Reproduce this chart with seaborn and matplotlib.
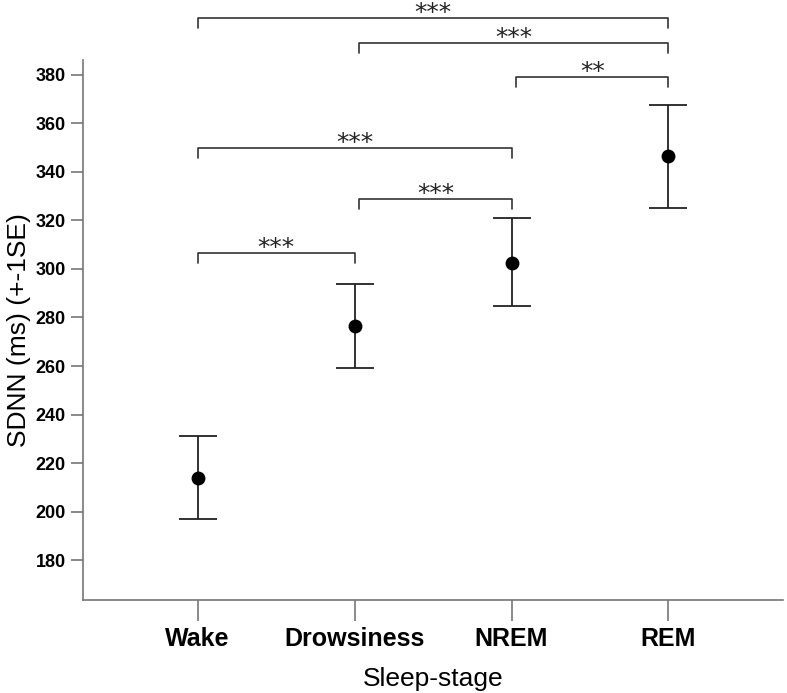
import seaborn as sns
import pandas as pd
import matplotlib.pyplot as plt

# values
stages = ["Wake", "Drowsiness", "NREM", "REM"]
means = [213.8, 276.5, 302.6, 346.4]
upper = [231.2, 294.0, 320.8, 367.5]
lower = [196.8, 259.0, 284.6, 325.2]

# significance brackets: (from, to, height, label)
pairs = [(0, 3), (1, 3), (2, 3), (0, 2), (1, 2), (0, 1)]
heights = [403.5, 393.0, 379.0, 350.0, 329.0, 306.5]
labels = ["***", "***", "**", "***", "***", "***"]

df = pd.DataFrame({"stage": stages, "mean": means, "upper": upper, "lower": lower})
df["x"] = range(len(stages))

sns.set_theme(style="ticks")
plt.rcParams["font.family"] = ["Liberation Sans", "DejaVu Sans"]
plt.rcParams["text.color"] = "black"
plt.rcParams["xtick.labelcolor"] = "black"
plt.rcParams["ytick.labelcolor"] = "black"
plt.rcParams["axes.labelcolor"] = "black"

fig = plt.figure(figsize=(7.87, 6.93), dpi=100)
ax = fig.add_axes([0.1055, 0.134, 0.8895, 0.779])

err = [df["mean"] - df["lower"], df["upper"] - df["mean"]]
ax.errorbar(df["x"], df["mean"], yerr=err, fmt="none", ecolor="#222222",
            elinewidth=1.3, capsize=14, capthick=1.3, zorder=2)
sns.scatterplot(data=df, x="x", y="mean", color="black", s=100,
                edgecolor="black", linewidth=0, zorder=3, ax=ax)

for (a, b), h, lab in zip(pairs, heights, labels):
    xa = a + (0.03 if a > 0 else 0)
    xb = b
    ax.plot([xa, xa, xb, xb], [h - 4.2, h, h, h - 4.2], color="#333333",
            lw=1.2, clip_on=False)
    ax.annotate(lab, xy=((xa + xb) / 2, h), xytext=(0, -1.5),
                textcoords="offset points", ha="center", va="baseline",
                fontsize=18, color="#222222",
                annotation_clip=False, family="DejaVu Sans")

ax.set_xlim(-0.73, 3.73)
ax.set_ylim(163.5, 386)
ax.set_xticks(df["x"])
ax.set_xticklabels(stages, fontsize=18, fontweight="bold")
ax.set_yticks(range(180, 381, 20))
ax.tick_params(axis="y", labelsize=13, length=9, width=1.2, color="#777777")
ax.tick_params(axis="x", length=15, width=1.2, color="#777777", pad=4)
for lab in ax.get_yticklabels():
    lab.set_fontweight("bold")
for s in ["left", "bottom"]:
    ax.spines[s].set_color("#777777")
    ax.spines[s].set_linewidth(1.2)
sns.despine(ax=ax)

ax.set_xlabel("Sleep-stage", fontsize=19, labelpad=12)
ax.set_ylabel("SDNN (ms) (+-1SE)", fontsize=19, labelpad=3)

fig.savefig("out.png", dpi=100)
